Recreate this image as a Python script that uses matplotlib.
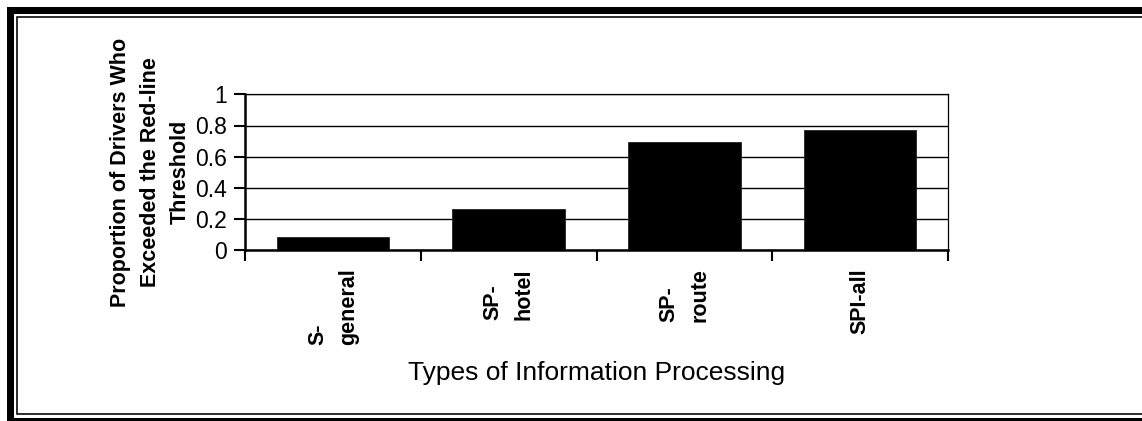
import numpy as np
import matplotlib
matplotlib.use("Agg")
import matplotlib.pyplot as plt
from matplotlib.lines import Line2D

categories = ["S-\ngeneral", "SP-\nhotel", "SP-\nroute", "SPI-all"]
proportions = [0.087, 0.267, 0.696, 0.773]
y_ticks = [0, 0.2, 0.4, 0.6, 0.8, 1]
y_tick_labels = ["0", "0.2", "0.4", "0.6", "0.8", "1"]

plt.rcParams['font.family'] = ['Liberation Sans', 'DejaVu Sans']

W, H = 1142, 421
fig = plt.figure(figsize=(W / 100, H / 100), dpi=100)


def px(x, y):
    # pixel coords (from top-left) -> figure fraction
    return x / W, 1 - y / H


# axes box in pixels
left, right, top, bottom = 245, 948, 94.3, 250.3
x0, y0 = px(left, bottom)
x1, y1 = px(right, top)
ax = fig.add_axes([x0, y0, x1 - x0, y1 - y0])

x = np.arange(len(categories))
ax.bar(x, proportions, width=0.64, color="black", edgecolor="#222222", linewidth=0.6, zorder=3)

ax.set_xlim(-0.5, len(categories) - 0.5)
ax.set_ylim(0, 1)
ax.set_yticks(y_ticks)
ax.set_yticklabels(y_tick_labels, fontsize=16.5)
ax.yaxis.grid(True, color="black", linewidth=1.0, zorder=0)

# major ticks at category boundaries, labels on minor ticks at centres
ax.set_xticks(np.arange(-0.5, len(categories), 1.0))
ax.set_xticklabels([])
ax.set_xticks(x, minor=True)
ax.set_xticklabels(categories, minor=True, rotation=90, fontsize=15.5, fontweight="bold",
                   multialignment="left", linespacing=1.6)
ax.tick_params(axis="x", which="major", direction="out", length=8, width=1.5)
ax.tick_params(axis="x", which="minor", length=0, pad=13)
ax.tick_params(axis="y", direction="out", length=8, width=1.5, pad=5)

for side in ["left", "bottom"]:
    ax.spines[side].set_linewidth(1.8)
for side in ["right", "top"]:
    ax.spines[side].set_linewidth(0.9)

ax.set_ylabel("Proportion of Drivers Who\nExceeded the Red-line\nThreshold", fontsize=15.5,
              fontweight="bold", linespacing=1.55, labelpad=3)
ax.set_xlabel("Types of Information Processing", fontsize=19, labelpad=11.5)

# double frame around the figure (right side runs off the image)
def frame(xl, yt, yb, lw):
    xs = [W + 20, xl, xl, W + 20]
    ys = [yt, yt, yb, yb]
    pts = [px(a, b) for a, b in zip(xs, ys)]
    fig.add_artist(Line2D([p[0] for p in pts], [p[1] for p in pts], color="black",
                          linewidth=lw * 0.72, solid_joinstyle="miter", transform=fig.transFigure))

frame(9.5, 9.5, 420.5, 7)
frame(16.5, 16.5, 414.3, 1.6)

fig.savefig("out.png", dpi=100)
